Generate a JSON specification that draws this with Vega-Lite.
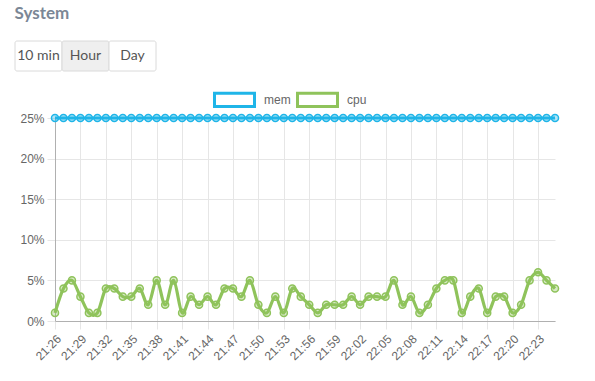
{
  "$schema": "https://vega.github.io/schema/vega-lite/v6.json",
  "padding": {"left": 14, "top": 4, "right": 10, "bottom": 5},
  "background": "#ffffff",
  "title": {"text": "System", "anchor": "start", "font": "Lato", "fontSize": 17, "fontWeight": "bold", "color": "#7b8796", "offset": 18},
  "datasets": {
    "buttons": [
      {"label": "10 min"}, {"label": "Hour"}, {"label": "Day"}
    ],
    "usage": [
      {"t": "2024-01-01T21:26", "mem": 25, "cpu": 1}, {"t": "2024-01-01T21:27", "mem": 25, "cpu": 4}, {"t": "2024-01-01T21:28", "mem": 25, "cpu": 5},
      {"t": "2024-01-01T21:29", "mem": 25, "cpu": 3}, {"t": "2024-01-01T21:30", "mem": 25, "cpu": 1}, {"t": "2024-01-01T21:31", "mem": 25, "cpu": 1},
      {"t": "2024-01-01T21:32", "mem": 25, "cpu": 4}, {"t": "2024-01-01T21:33", "mem": 25, "cpu": 4}, {"t": "2024-01-01T21:34", "mem": 25, "cpu": 3},
      {"t": "2024-01-01T21:35", "mem": 25, "cpu": 3}, {"t": "2024-01-01T21:36", "mem": 25, "cpu": 4}, {"t": "2024-01-01T21:37", "mem": 25, "cpu": 2},
      {"t": "2024-01-01T21:38", "mem": 25, "cpu": 5}, {"t": "2024-01-01T21:39", "mem": 25, "cpu": 2}, {"t": "2024-01-01T21:40", "mem": 25, "cpu": 5},
      {"t": "2024-01-01T21:41", "mem": 25, "cpu": 1}, {"t": "2024-01-01T21:42", "mem": 25, "cpu": 3}, {"t": "2024-01-01T21:43", "mem": 25, "cpu": 2},
      {"t": "2024-01-01T21:44", "mem": 25, "cpu": 3}, {"t": "2024-01-01T21:45", "mem": 25, "cpu": 2}, {"t": "2024-01-01T21:46", "mem": 25, "cpu": 4},
      {"t": "2024-01-01T21:47", "mem": 25, "cpu": 4}, {"t": "2024-01-01T21:48", "mem": 25, "cpu": 3}, {"t": "2024-01-01T21:49", "mem": 25, "cpu": 5},
      {"t": "2024-01-01T21:50", "mem": 25, "cpu": 2}, {"t": "2024-01-01T21:51", "mem": 25, "cpu": 1}, {"t": "2024-01-01T21:52", "mem": 25, "cpu": 3},
      {"t": "2024-01-01T21:53", "mem": 25, "cpu": 1}, {"t": "2024-01-01T21:54", "mem": 25, "cpu": 4}, {"t": "2024-01-01T21:55", "mem": 25, "cpu": 3},
      {"t": "2024-01-01T21:56", "mem": 25, "cpu": 2}, {"t": "2024-01-01T21:57", "mem": 25, "cpu": 1}, {"t": "2024-01-01T21:58", "mem": 25, "cpu": 2},
      {"t": "2024-01-01T21:59", "mem": 25, "cpu": 2}, {"t": "2024-01-01T22:00", "mem": 25, "cpu": 2}, {"t": "2024-01-01T22:01", "mem": 25, "cpu": 3},
      {"t": "2024-01-01T22:02", "mem": 25, "cpu": 2}, {"t": "2024-01-01T22:03", "mem": 25, "cpu": 3}, {"t": "2024-01-01T22:04", "mem": 25, "cpu": 3},
      {"t": "2024-01-01T22:05", "mem": 25, "cpu": 3}, {"t": "2024-01-01T22:06", "mem": 25, "cpu": 5}, {"t": "2024-01-01T22:07", "mem": 25, "cpu": 2},
      {"t": "2024-01-01T22:08", "mem": 25, "cpu": 3}, {"t": "2024-01-01T22:09", "mem": 25, "cpu": 1}, {"t": "2024-01-01T22:10", "mem": 25, "cpu": 2},
      {"t": "2024-01-01T22:11", "mem": 25, "cpu": 4}, {"t": "2024-01-01T22:12", "mem": 25, "cpu": 5}, {"t": "2024-01-01T22:13", "mem": 25, "cpu": 5},
      {"t": "2024-01-01T22:14", "mem": 25, "cpu": 1}, {"t": "2024-01-01T22:15", "mem": 25, "cpu": 3}, {"t": "2024-01-01T22:16", "mem": 25, "cpu": 4},
      {"t": "2024-01-01T22:17", "mem": 25, "cpu": 1}, {"t": "2024-01-01T22:18", "mem": 25, "cpu": 3}, {"t": "2024-01-01T22:19", "mem": 25, "cpu": 3},
      {"t": "2024-01-01T22:20", "mem": 25, "cpu": 1}, {"t": "2024-01-01T22:21", "mem": 25, "cpu": 2}, {"t": "2024-01-01T22:22", "mem": 25, "cpu": 5},
      {"t": "2024-01-01T22:23", "mem": 25, "cpu": 6}, {"t": "2024-01-01T22:24", "mem": 25, "cpu": 5}, {"t": "2024-01-01T22:25", "mem": 25, "cpu": 4}
    ]
  },
  "config": {
    "view": {"stroke": null},
    "axis": {
      "labelFont": "Liberation Sans", "labelFontSize": 12, "labelColor": "#666666",
      "gridColor": "#e6e6e6", "domainColor": "#b0b0b0", "tickColor": "#e6e6e6",
      "tickSize": 8, "labelPadding": 3, "title": null
    }
  },
  "spacing": 6,
  "resolve": {"legend": {"color": "independent"}, "scale": {"color": "independent"}},
  "vconcat": [
    {
      "width": 141,
      "height": 30,
      "data": {"name": "buttons"},
      "encoding": {
        "x": {"field": "label", "type": "nominal", "sort": null, "axis": null, "scale": {"paddingInner": 0, "paddingOuter": 0}}
      },
      "layer": [
        {
          "mark": {"type": "rect", "stroke": "#dadada", "strokeWidth": 1, "cornerRadius": 2},
          "encoding": {
            "fill": {"condition": {"test": "datum.label === 'Hour'", "value": "#efefef"}, "value": "#ffffff"}
          }
        },
        {
          "mark": {"type": "text", "font": "Lato", "fontSize": 14, "color": "#555555"},
          "encoding": {"text": {"field": "label"}}
        }
      ]
    },
    {
      "width": 540,
      "height": 203,
      "data": {"name": "usage"},
      "transform": [{"fold": ["mem", "cpu"], "as": ["series", "value"]}],
      "encoding": {
        "x": {
          "field": "t", "type": "temporal",
          "scale": {"nice": false, "range": [40, 540]},
          "axis": {
            "values": [
              {"year": 2024, "month": 1, "date": 1, "hours": 21, "minutes": 26},
              {"year": 2024, "month": 1, "date": 1, "hours": 21, "minutes": 29},
              {"year": 2024, "month": 1, "date": 1, "hours": 21, "minutes": 32},
              {"year": 2024, "month": 1, "date": 1, "hours": 21, "minutes": 35},
              {"year": 2024, "month": 1, "date": 1, "hours": 21, "minutes": 38},
              {"year": 2024, "month": 1, "date": 1, "hours": 21, "minutes": 41},
              {"year": 2024, "month": 1, "date": 1, "hours": 21, "minutes": 44},
              {"year": 2024, "month": 1, "date": 1, "hours": 21, "minutes": 47},
              {"year": 2024, "month": 1, "date": 1, "hours": 21, "minutes": 50},
              {"year": 2024, "month": 1, "date": 1, "hours": 21, "minutes": 53},
              {"year": 2024, "month": 1, "date": 1, "hours": 21, "minutes": 56},
              {"year": 2024, "month": 1, "date": 1, "hours": 21, "minutes": 59},
              {"year": 2024, "month": 1, "date": 1, "hours": 22, "minutes": 2},
              {"year": 2024, "month": 1, "date": 1, "hours": 22, "minutes": 5},
              {"year": 2024, "month": 1, "date": 1, "hours": 22, "minutes": 8},
              {"year": 2024, "month": 1, "date": 1, "hours": 22, "minutes": 11},
              {"year": 2024, "month": 1, "date": 1, "hours": 22, "minutes": 14},
              {"year": 2024, "month": 1, "date": 1, "hours": 22, "minutes": 17},
              {"year": 2024, "month": 1, "date": 1, "hours": 22, "minutes": 20},
              {"year": 2024, "month": 1, "date": 1, "hours": 22, "minutes": 23}
            ],
            "format": "%H:%M",
            "labelAngle": -45, "grid": true, "labelPadding": 4, "labelOverlap": false, "labelBound": false, "labelFlush": false
          }
        },
        "y": {
          "field": "value", "type": "quantitative",
          "scale": {"domain": [0, 25], "nice": false},
          "axis": {"values": [0, 5, 10, 15, 20, 25], "labelExpr": "datum.value + '%'", "offset": -40}
        }
      },
      "layer": [
        {
          "mark": {"type": "line", "interpolate": "cardinal", "strokeWidth": 3.2},
          "encoding": {
            "color": {
              "field": "series", "type": "nominal",
              "scale": {"domain": ["mem", "cpu"], "range": ["#1fb5e8", "#8fc35b"]},
              "legend": {
                "orient": "none", "legendX": 198, "legendY": -40, "direction": "horizontal",
                "title": null, "padding": 0,
                "symbolType": "M-1,-0.33H1V0.33H-1Z", "symbolSize": 1600, "symbolStrokeWidth": 3,
                "symbolFillColor": "transparent",
                "labelFont": "Liberation Sans", "labelFontSize": 12, "labelColor": "#666666",
                "labelOffset": 8, "columnPadding": 0
              }
            }
          }
        },
        {
          "mark": {"type": "point", "shape": "circle", "size": 50, "strokeWidth": 1.5, "fillOpacity": 0.35},
          "encoding": {
            "fill": {"field": "series", "type": "nominal", "scale": {"domain": ["mem", "cpu"], "range": ["#1fb5e8", "#8fc35b"]}, "legend": null},
            "stroke": {"field": "series", "type": "nominal", "scale": {"domain": ["mem", "cpu"], "range": ["#1fb5e8", "#8fc35b"]}, "legend": null}
          }
        }
      ]
    }
  ]
}
